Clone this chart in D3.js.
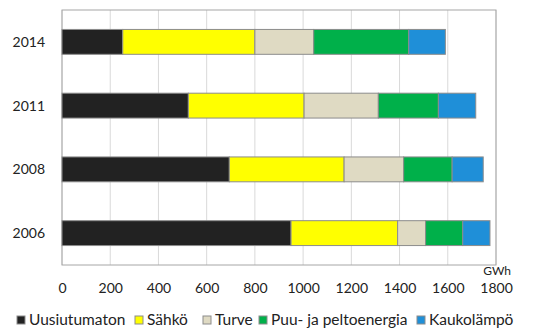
<!DOCTYPE html>
<html>
<head>
<meta charset="utf-8">
<script src="https://cdnjs.cloudflare.com/ajax/libs/d3/7.8.5/d3.min.js"></script>
<style>
  body { margin:0; background:#fff; }
  text { font-family: Lato, "Open Sans", sans-serif; fill:#222; }
</style>
</head>
<body>
<div id="chart"></div>
<script>
// values in GWh
var years = ["2014", "2011", "2008", "2006"];
var series = ["Uusiutumaton", "Sähkö", "Turve", "Puu- ja peltoenergia", "Kaukolämpö"];
var colors = ["#222222", "#ffff00", "#dfdac3", "#00b04a", "#1f8fd8"];
var uusiutumaton = [252, 524, 694, 950];
var sahko = [548, 480, 476, 442];
var turve = [244, 308, 247, 116];
var puu = [394, 249, 201, 154];
var kauko = [152, 155, 129, 113];
var xTicks = [0, 200, 400, 600, 800, 1000, 1200, 1400, 1600, 1800];

var w = 549, h = 329;
var plotL = 62, plotR = 496, plotT = 10, plotB = 265;

var rows = years.map(function(y, i){
    return {year:y, v:[uusiutumaton[i], sahko[i], turve[i], puu[i], kauko[i]]};
});

var svg = d3.select("#chart").append("svg")
    .attr("width", w).attr("height", h);

var x = d3.scaleLinear().domain([0, 1800]).range([plotL, plotR]);
var y = d3.scaleBand().domain(years).range([plotT, plotB]).paddingInner(0.61).paddingOuter(0.305);

// grid
svg.append("g").selectAll("line").data(xTicks).enter().append("line")
    .attr("x1", function(d){ return x(d); }).attr("x2", function(d){ return x(d); })
    .attr("y1", plotT).attr("y2", plotB)
    .style("stroke", "#d9d9d9").style("stroke-width", 1);

svg.append("rect")
    .attr("x", plotL).attr("y", plotT)
    .attr("width", plotR - plotL).attr("height", plotB - plotT)
    .style("fill", "none").style("stroke", "#a6a6a6").style("stroke-width", 1);

// bars
rows.forEach(function(r){
    var acc = 0;
    var g = svg.append("g");
    r.v.forEach(function(v, j){
        g.append("rect")
            .attr("x", x(acc)).attr("y", y(r.year))
            .attr("width", x(acc + v) - x(acc)).attr("height", y.bandwidth())
            .style("fill", colors[j])
            .style("stroke", "#8c8c8c").style("stroke-width", 1);
        acc += v;
    });
    svg.append("text")
        .attr("x", 45).attr("y", y(r.year) + y.bandwidth()/2)
        .attr("dy", "0.35em").attr("text-anchor", "end")
        .style("font-size", "14px")
        .text(r.year);
});

// x axis labels
var xAxis = d3.axisBottom(x).tickValues(xTicks).tickFormat(d3.format("d")).tickSize(0).tickPadding(0);
var ax = svg.append("g").attr("transform", "translate(0," + 283 + ")").call(xAxis);
ax.select(".domain").remove();
ax.selectAll("text").style("font-size", "14px").style("font-family", "Lato, sans-serif").style("fill", "#222");

svg.append("text")
    .attr("x", 511).attr("y", 275).attr("text-anchor", "end")
    .style("font-size", "12px").text("GWh");

// legend
var legX = [17, 135, 203, 259, 417];
series.forEach(function(s, j){
    svg.append("rect")
        .attr("x", legX[j]).attr("y", 316)
        .attr("width", 8).attr("height", 8)
        .style("fill", colors[j]).style("stroke", "#8c8c8c").style("stroke-width", 1);
    svg.append("text")
        .attr("x", legX[j] + 12).attr("y", 320).attr("dy", "0.35em")
        .style("font-size", "15.5px").text(s);
});
</script>
</body>
</html>
